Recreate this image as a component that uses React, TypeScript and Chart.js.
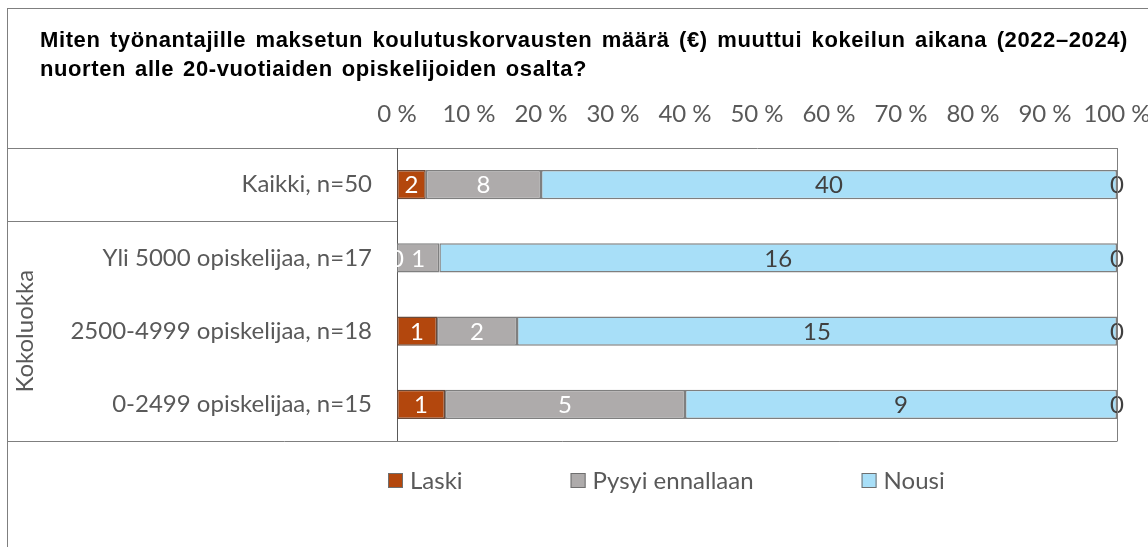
import React, { useEffect, useRef } from 'react';
import { Chart, registerables } from 'chart.js';

Chart.register(...registerables);

// ---------- data ----------
const TITLE_LINES = [
  'Miten työnantajille maksetun koulutuskorvausten määrä (€) muuttui kokeilun aikana (2022–2024)',
  'nuorten alle 20-vuotiaiden opiskelijoiden osalta?',
];
const CATEGORIES = [
  'Kaikki, n=50',
  'Yli 5000 opiskelijaa, n=17',
  '2500-4999 opiskelijaa, n=18',
  '0-2499 opiskelijaa, n=15',
];
const GROUP_LABEL = 'Kokoluokka';
const SERIES_NAMES = ['Laski', 'Pysyi ennallaan', 'Nousi', 'Ei vastausta'];
const LASKI = [2, 0, 1, 1];
const PYSYI = [8, 1, 2, 5];
const NOUSI = [40, 16, 15, 9];
const MUU = [0, 0, 0, 0];
const X_TICK_LABELS = ['0 %', '10 %', '20 %', '30 %', '40 %', '50 %', '60 %', '70 %', '80 %', '90 %', '100 %'];
const LEGEND_COUNT = 3;

// ---------- styles ----------
const FONT = 'Lato';
const FILL = ['#B3470D', '#AEABAB', '#A8DFF8', '#A8DFF8'];
const LABEL_COLORS = ['#ffffff', '#ffffff', '#404040', '#404040'];
const TEXT_GREY = '#595959';
const LINE_GREY = '#7f7f7f';

const COUNTS = [LASKI, PYSYI, NOUSI, MUU];
const TOTALS = CATEGORIES.map((_, i) => COUNTS.reduce((s, arr) => s + arr[i], 0));
const toPct = (arr: number[]) => arr.map((v, i) => (v / TOTALS[i]) * 100);

const framePlugin = {
  id: 'frame',
  beforeDraw(chart: any) {
    const { ctx, width, height } = chart;
    ctx.save();
    ctx.fillStyle = '#ffffff';
    ctx.fillRect(0, 0, width, height);
    ctx.strokeStyle = LINE_GREY;
    ctx.lineWidth = 1;
    ctx.strokeRect(7.5, 8.5, width + 10, height + 10);
    ctx.restore();
  },
};

const valueLabelPlugin = {
  id: 'valueLabels',
  afterDatasetsDraw(chart: any) {
    const ctx = chart.ctx;
    ctx.save();
    ctx.font = `24px ${FONT}`;
    ctx.textAlign = 'center';
    ctx.textBaseline = 'middle';
    chart.data.datasets.forEach((ds: any, di: number) => {
      const meta = chart.getDatasetMeta(di);
      meta.data.forEach((el: any, i: number) => {
        const p = el.getCenterPoint();
        ctx.fillStyle = LABEL_COLORS[di];
        ctx.fillText(String(COUNTS[di][i]), p.x, p.y + 1);
      });
    });
    ctx.restore();
  },
};

const decorPlugin = {
  id: 'decor',
  afterDraw(chart: any) {
    const { ctx, chartArea } = chart;
    const yScale = chart.scales.y;
    const { left, right, top, bottom } = chartArea;
    ctx.save();
    // table lines
    ctx.strokeStyle = LINE_GREY;
    ctx.lineWidth = 1;
    ctx.beginPath();
    ctx.moveTo(7, Math.round(top) + 0.5);
    ctx.lineTo(left, Math.round(top) + 0.5);
    const sep = Math.round((yScale.getPixelForValue(0) + yScale.getPixelForValue(1)) / 2) + 0.5;
    ctx.moveTo(7, sep);
    ctx.lineTo(left, sep);
    ctx.moveTo(7, Math.round(bottom) + 0.5);
    ctx.lineTo(right + 0.5, Math.round(bottom) + 0.5);
    ctx.moveTo(Math.round(right) + 0.5, top);
    ctx.lineTo(Math.round(right) + 0.5, bottom);
    ctx.stroke();

    // group label
    ctx.fillStyle = TEXT_GREY;
    ctx.font = `24px ${FONT}`;
    ctx.textAlign = 'center';
    ctx.textBaseline = 'middle';
    ctx.save();
    ctx.translate(25, (sep + bottom) / 2);
    ctx.rotate(-Math.PI / 2);
    ctx.fillText(GROUP_LABEL, 0, 0);
    ctx.restore();

    // legend
    let x = 388;
    const ly = 480;
    ctx.textAlign = 'left';
    chart.data.datasets.slice(0, LEGEND_COUNT).forEach((ds: any) => {
      ctx.fillStyle = ds.backgroundColor;
      ctx.fillRect(x, ly - 7, 15, 15);
      ctx.strokeStyle = '#6f6f6f';
      ctx.strokeRect(x + 0.5, ly - 6.5, 14, 14);
      ctx.fillStyle = TEXT_GREY;
      ctx.fillText(ds.label, x + 22, ly + 1);
      x += 22 + ctx.measureText(ds.label).width + 108;
    });

    // title
    ctx.font = 'bold 22px "Liberation Sans"';
    ctx.fillStyle = '#000000';
    ctx.textBaseline = 'alphabetic';
    (ctx as any).letterSpacing = '0.6px';
    const targets = [1088, 547];
    const baselines = [47, 76];
    TITLE_LINES.forEach((line, i) => {
      (ctx as any).wordSpacing = '0px';
      const w = ctx.measureText(line).width;
      const spaces = (line.match(/ /g) || []).length;
      const extra = spaces ? Math.max(0, (targets[i] - w) / spaces) : 0;
      (ctx as any).wordSpacing = `${extra}px`;
      ctx.fillText(line, 40, baselines[i]);
    });
    (ctx as any).wordSpacing = '0px';
    (ctx as any).letterSpacing = '0px';
    ctx.restore();
  },
};

export default function App() {
  const canvasRef = useRef<HTMLCanvasElement | null>(null);

  useEffect(() => {
    if (!canvasRef.current) return;
    const datasets = COUNTS.map((arr, di) => ({
      label: SERIES_NAMES[di],
      data: toPct(arr),
      backgroundColor: FILL[di],
      borderColor: di === 0 ? '#6a4a3a' : LINE_GREY,
      borderWidth: (c: any) => (di === 3 || c.raw === 0 ? 0 : 1.5),
      borderSkipped: false,
      barPercentage: 0.4,
      categoryPercentage: 1,
    }));

    const chart = new Chart(canvasRef.current, {
      type: 'bar',
      data: { labels: CATEGORIES, datasets },
      options: {
        indexAxis: 'y',
        responsive: false,
        animation: false,
        layout: { padding: { left: 40, right: 0, top: 0, bottom: 106 } },
        plugins: {
          legend: { display: false },
          title: { display: false },
          tooltip: { enabled: false },
        },
        scales: {
          x: {
            type: 'linear',
            position: 'top',
            stacked: true,
            min: 0,
            max: 100,
            grid: { display: false, drawTicks: false },
            border: { display: true, color: LINE_GREY, width: 1 },
            ticks: {
              stepSize: 10,
              padding: 19,
              color: TEXT_GREY,
              font: { family: FONT, size: 24 },
              maxRotation: 0,
              callback: (_v: any, idx: number) => X_TICK_LABELS[idx],
            },
            afterFit: (scale: any) => {
              scale.height = 148;
              scale.paddingRight = 31;
              scale.paddingLeft = 0;
            },
          },
          y: {
            type: 'category',
            stacked: true,
            grid: { display: false, drawTicks: false },
            border: { display: true, color: TEXT_GREY, width: 1 },
            ticks: {
              padding: 25,
              color: TEXT_GREY,
              font: { family: FONT, size: 24 },
            },
            afterFit: (scale: any) => {
              scale.width = 357;
            },
          },
        },
      },
      plugins: [framePlugin, valueLabelPlugin, decorPlugin],
    } as any);

    return () => chart.destroy();
  }, []);

  return (
    <div style={{ position: 'fixed', left: 0, top: 0, width: 1148, height: 547, background: '#fff' }}>
      <canvas ref={canvasRef} width={1148} height={547} style={{ display: 'block' }} />
    </div>
  );
}
